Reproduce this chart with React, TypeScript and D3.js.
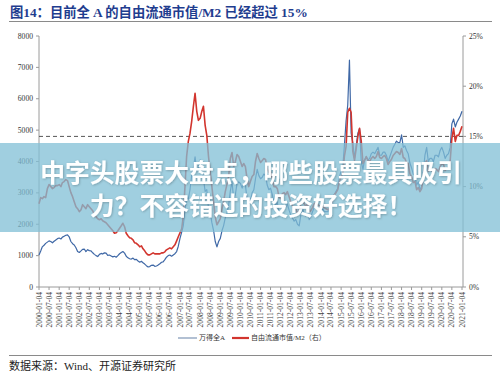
import React from 'react';
import * as d3 from 'd3';

// Monthly observations, first one = 2000-01-04
const indexValues: number[] = [
  // 2000
  1020, 1150, 1280, 1330, 1390, 1430, 1470, 1450, 1410, 1460, 1500, 1540,
  // 2001
  1560, 1530, 1590, 1620, 1650, 1660, 1600, 1450, 1380, 1340, 1250, 1130,
  // 2002
  1100, 1150, 1200, 1210, 1130, 1190, 1160, 1150, 1090, 1040, 1000, 970,
  // 2003
  1040, 1070, 1050, 1090, 1080, 1010, 1020, 990, 960, 980, 950, 1000,
  // 2004
  1060, 1100, 1130, 1080, 980, 930, 900, 890, 920, 870, 880, 830,
  // 2005
  790, 820, 770, 730, 680, 640, 650, 690, 700, 660, 670, 700,
  // 2006
  740, 790, 800, 870, 950, 1000, 1020, 980, 1020, 1060, 1130, 1300,
  // 2007
  1550, 1750, 1950, 2450, 2850, 2800, 3100, 3550, 3800, 4150, 3700, 3800,
  // 2008
  4050, 3750, 3450, 3050, 3100, 2500, 2400, 2050, 1800, 1450, 1280, 1450,
  // 2009
  1550, 1800, 1950, 2200, 2350, 2600, 3050, 3350, 2800, 2950, 3300, 3350,
  // 2010
  3300, 3150, 3300, 3250, 2800, 2650, 2750, 3000, 3100, 3450, 3750, 3550,
  // 2011
  3450, 3500, 3600, 3550, 3250, 3100, 3150, 2950, 2700, 2600, 2700, 2350,
  // 2012
  2300, 2550, 2600, 2550, 2650, 2450, 2300, 2200, 2100, 2150, 2000, 1950,
  // 2013
  2300, 2500, 2350, 2250, 2450, 2150, 2250, 2400, 2550, 2600, 2550, 2500,
  // 2014
  2400, 2500, 2400, 2400, 2400, 2450, 2600, 2750, 2950, 3050, 3150, 3500,
  // 2015
  3700, 3850, 4500, 5300, 5800, 7230, 4900, 4600, 4100, 4500, 4900, 5050,
  // 2016
  4000, 3750, 4050, 4150, 4050, 4100, 4250, 4300, 4250, 4350, 4450, 4200,
  // 2017
  4200, 4300, 4300, 4200, 4000, 4150, 4300, 4450, 4550, 4650, 4600, 4600,
  // 2018
  4850, 4450, 4500, 4350, 4250, 3950, 3800, 3600, 3550, 3250, 3350, 3100,
  // 2019
  3200, 3700, 4200, 4450, 4000, 4100, 4100, 4000, 4200, 4200, 4150, 4350,
  // 2020
  4450, 4300, 4100, 4200, 4250, 4450, 5200, 5350, 5100, 5250, 5350, 5450,
  // 2021
  5600,
];

const ratioValues: number[] = [
  // 2000
  8.3, 8.9, 8.8, 9.0, 8.9, 9.8, 10.2, 10.0, 9.8, 9.9, 10.1, 10.1,
  // 2001
  10.2, 10.0, 10.4, 10.5, 10.7, 10.6, 10.0, 9.4, 9.0, 8.5, 8.0, 7.8,
  // 2002
  7.5, 7.7, 8.2, 8.0, 7.8, 8.2, 8.0, 7.8, 7.6, 7.2, 7.0, 6.8,
  // 2003
  6.7, 6.8, 6.6, 6.5, 6.4, 6.2, 6.0, 5.8, 5.6, 5.35, 5.4, 5.6,
  // 2004
  5.85, 6.1, 6.35, 6.0, 5.35, 5.1, 4.9, 4.85, 4.7, 4.4, 4.35, 4.2,
  // 2005
  4.0, 4.1, 3.8, 3.6, 3.35, 3.2, 3.2, 3.3, 3.4, 3.3, 3.3, 3.3,
  // 2006
  3.3, 3.4, 3.4, 3.5, 3.7, 3.8, 3.9, 3.8, 4.0, 4.2, 4.6, 5.0,
  // 2007
  5.4, 5.8, 7.0, 10.0, 13.0, 14.5, 15.3, 16.5, 18.0, 19.3, 17.5, 16.6,
  // 2008
  16.8, 17.5, 18.0, 16.1, 15.1, 13.0, 11.5, 10.0, 8.5, 7.0, 6.2, 6.5,
  // 2009
  6.8, 7.8, 8.5, 9.5, 10.2, 11.0, 12.8, 13.4, 12.0, 12.5, 13.2, 13.0,
  // 2010
  12.5, 12.0, 12.3, 12.0, 10.8, 10.0, 10.5, 11.0, 11.2, 12.5, 13.3, 12.8,
  // 2011
  12.4, 12.6, 12.8, 12.7, 11.8, 11.4, 11.5, 10.8, 10.0, 10.0, 9.8, 9.0,
  // 2012
  8.8, 9.3, 9.4, 9.2, 9.5, 9.0, 8.5, 8.1, 7.8, 7.8, 7.3, 7.6,
  // 2013
  8.3, 8.6, 8.3, 8.0, 8.4, 7.5, 7.6, 7.9, 8.3, 8.4, 8.2, 8.1,
  // 2014
  7.9, 8.1, 7.9, 7.8, 7.7, 7.8, 8.2, 8.7, 9.2, 9.4, 9.7, 10.5,
  // 2015
  11.0, 11.3, 13.0, 14.0, 17.4, 17.8, 17.4, 13.5, 12.6, 13.8, 15.0, 15.8,
  // 2016
  14.5, 12.3, 12.6, 13.0, 12.6, 12.5, 12.8, 13.0, 12.8, 13.0, 13.5, 12.9,
  // 2017
  12.8, 13.0, 13.1, 12.8, 12.2, 12.5, 12.7, 13.1, 13.3, 13.5, 13.4, 13.2,
  // 2018
  13.8, 12.9, 12.8, 12.4, 12.3, 11.3, 11.0, 10.4, 10.5, 9.7, 9.9, 9.5,
  // 2019
  9.8, 11.2, 12.3, 12.6, 11.5, 11.7, 11.6, 11.4, 11.8, 11.7, 11.5, 12.0,
  // 2020
  12.3, 12.2, 11.6, 11.8, 11.9, 12.6, 14.8, 15.8, 14.5, 15.1, 15.1, 15.5,
  // 2021
  16.0,
];

const leftTicks: number[] = [0, 1000, 2000, 3000, 4000, 5000, 6000, 7000, 8000];
const rightTicks: number[] = [0, 5, 10, 15, 20, 25];
const thresholdPct = 15;

const xTickLabels: string[] = [
  '2000-01-04', '2000-07-04', '2001-01-04', '2001-07-04', '2002-01-04', '2002-07-04',
  '2003-01-04', '2003-07-04', '2004-01-04', '2004-07-04', '2005-01-04', '2005-07-04',
  '2006-01-04', '2006-07-04', '2007-01-04', '2007-07-04', '2008-01-04', '2008-07-04',
  '2009-01-04', '2009-07-04', '2010-01-04', '2010-07-04', '2011-01-04', '2011-07-04',
  '2012-01-04', '2012-07-04', '2013-01-04', '2013-07-04', '2014-01-04', '2014-07-04',
  '2015-01-04', '2015-07-04', '2016-01-04', '2016-07-04', '2017-01-04', '2017-07-04',
  '2018-01-04', '2018-07-04', '2019-01-04', '2019-07-04', '2020-01-04', '2020-07-04',
  '2021-01-04',
];

const titleText = '图14：目前全 A 的自由流通市值/M2 已经超过 15%';
const sourceText = '数据来源：Wind、开源证券研究所';
const legendNames = ['万得全A', '自由流通市值/M2（右）'];
const bannerLines = ['中字头股票大盘点，哪些股票最具吸引', '力？不容错过的投资好选择！'];

const BLUE = '#3f68a6';
const RED = '#d2352e';
const SERIF = "'Liberation Serif', 'Noto Sans CJK SC', serif";
const CJK_SANS = "'Noto Sans CJK SC', 'Noto Sans', sans-serif";

const parse = d3.timeParse('%Y-%m-%d');

export default function App() {
  const W = 500;
  const H = 377;
  const plot = { left: 39, right: 463, top: 36, bottom: 287 };

  const x = d3
    .scaleTime()
    .domain([parse('2000-01-04') as Date, parse('2021-01-04') as Date])
    .range([plot.left, 462]);
  const yL = d3.scaleLinear().domain([0, 8000]).range([plot.bottom, plot.top]);
  const yR = d3.scaleLinear().domain([0, 25]).range([plot.bottom, plot.top]);

  const dates = indexValues.map((_, i) => new Date(2000, i, 4));

  const blueLine = d3
    .line<number>()
    .x((_, i) => x(dates[i]))
    .y((d) => yL(d))(indexValues) as string;
  const redLine = d3
    .line<number>()
    .x((_, i) => x(dates[i]))
    .y((d) => yR(d))(ratioValues) as string;

  const labelFont = 7.6;

  return (
    <svg
      width={W}
      height={H}
      viewBox={`0 0 ${W} ${H}`}
      style={{ position: 'absolute', left: 0, top: 0, background: '#fff' }}
    >
      <defs>
        <filter id="tshadow" x="-5%" y="-20%" width="110%" height="140%">
          <feDropShadow dx="0.8" dy="0.8" stdDeviation="1" floodColor="#000" floodOpacity="0.25" />
        </filter>
      </defs>
      <rect x={0} y={0} width={W} height={H} fill="#fff" />

      {/* title */}
      <text x={10} y={17} fontFamily={SERIF} fontWeight={700} fontSize={13.3} fill="#1f3d8f">
        {titleText}
      </text>
      <line x1={9} x2={492} y1={21.5} y2={21.5} stroke="#8a8a8a" strokeWidth={1.2} />

      {/* axes */}
      <line x1={plot.left} x2={plot.left} y1={plot.top} y2={plot.bottom} stroke="#9a9a9a" strokeWidth={1} />
      <line x1={plot.right} x2={plot.right} y1={plot.top} y2={plot.bottom} stroke="#9a9a9a" strokeWidth={1} />
      <line x1={plot.left} x2={plot.right} y1={plot.bottom} y2={plot.bottom} stroke="#9a9a9a" strokeWidth={1} />

      {leftTicks.map((t) => (
        <g key={'l' + t}>
          <line x1={plot.left - 3} x2={plot.left} y1={yL(t)} y2={yL(t)} stroke="#9a9a9a" />
          <text x={33} y={yL(t)} dy="0.33em" textAnchor="end" fontFamily={SERIF} fontSize={labelFont} fill="#333">
            {t}
          </text>
        </g>
      ))}
      {rightTicks.map((t) => (
        <g key={'r' + t}>
          <line x1={plot.right} x2={plot.right + 3} y1={yR(t)} y2={yR(t)} stroke="#9a9a9a" />
          <text x={469} y={yR(t)} dy="0.33em" textAnchor="start" fontFamily={SERIF} fontSize={labelFont} fill="#333">
            {t + '%'}
          </text>
        </g>
      ))}
      {xTickLabels.map((lab) => {
        const px = x(parse(lab) as Date);
        return (
          <g key={lab}>
            <line x1={px} x2={px} y1={plot.bottom} y2={plot.bottom + 3} stroke="#9a9a9a" />
            <text
              transform={`translate(${px},${plot.bottom + 5}) rotate(-90)`}
              dy="0.33em"
              textAnchor="end"
              fontFamily={SERIF}
              fontSize={labelFont}
              fill="#444"
            >
              {lab}
            </text>
          </g>
        );
      })}

      {/* 15% threshold */}
      <line
        x1={plot.left}
        x2={plot.right}
        y1={yR(thresholdPct)}
        y2={yR(thresholdPct)}
        stroke="#555"
        strokeWidth={1}
        strokeDasharray="4,3"
      />

      {/* series */}
      <path d={blueLine} fill="none" stroke={BLUE} strokeWidth={1.2} strokeLinejoin="round" />
      <path d={redLine} fill="none" stroke={RED} strokeWidth={1.6} strokeLinejoin="round" />

      {/* legend */}
      <line x1={178} x2={197} y1={338} y2={338} stroke="#9fb0c8" strokeWidth={1.6} />
      <text x={199} y={338} dy="0.35em" fontFamily={SERIF} fontSize={7} fill="#333">
        {legendNames[0]}
      </text>
      <line x1={232} x2={249} y1={338} y2={338} stroke={RED} strokeWidth={2.2} />
      <text x={251} y={338} dy="0.35em" fontFamily={SERIF} fontSize={7} fill="#333">
        {legendNames[1]}
      </text>

      {/* source */}
      <line x1={9} x2={492} y1={355.5} y2={355.5} stroke="#8a8a8a" strokeWidth={1.2} />
      <text x={9} y={370} fontFamily={SERIF} fontSize={11} fill="#222">
        {sourceText}
      </text>

      {/* overlay banner */}
      <rect x={0} y={143} width={W} height={89} fill="rgb(128,191,214)" fillOpacity={0.75} />
      <g filter="url(#tshadow)">
        {bannerLines.map((ln, i) => (
          <text
            key={ln}
            x={251}
            y={181.5 + i * 33}
            textAnchor="middle"
            fontFamily={CJK_SANS}
            fontWeight={700}
            fontSize={24.8}
            fill="#fff"
          >
            {ln}
          </text>
        ))}
      </g>
    </svg>
  );
}
